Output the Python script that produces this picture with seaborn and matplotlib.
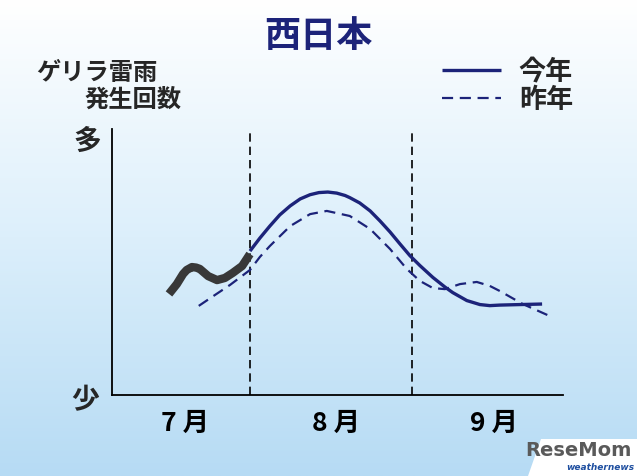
import matplotlib
matplotlib.use("Agg")
import matplotlib.pyplot as plt
from matplotlib.colors import LinearSegmentedColormap
from matplotlib.patches import Polygon
import seaborn as sns
import numpy as np

# days counted from July 1 (Aug 1 = 31, Sep 1 = 62); y = relative frequency (0 = 少, 100 = 多)
past_x = [15.5, 17.0, 18.2, 18.9, 19.9, 20.7, 21.4, 23.0, 24.7, 26.2, 27.7, 29.5, 31.0]
past_y = [38.0, 41.7, 45.5, 47.0, 48.1, 47.9, 47.4, 44.7, 43.2, 44.0, 45.9, 48.5, 53.0]

this_x = [31.0, 32.9, 34.8, 36.7, 38.7, 40.6, 42.5, 44.2, 45.9, 47.6, 49.2, 50.1, 52.0,
          54.0, 55.9, 57.8, 59.7, 61.6, 63.5, 66.0, 68.3, 69.8, 72.5, 75.0, 76.9, 78.8,
          82.7, 86.9]
this_y = [54.1, 59.0, 63.5, 67.7, 71.1, 73.7, 75.3, 76.1, 76.3, 75.9, 75.0, 74.2, 72.2,
          69.2, 65.4, 61.3, 56.8, 52.4, 48.7, 44.2, 40.6, 38.5, 35.5, 34.0, 33.6, 33.8,
          34.0, 34.2]

last_x = [21.2, 24.3, 27.2, 31.0, 32.9, 34.8, 38.7, 42.5, 45.7, 50.1, 54.0, 57.8, 61.0,
          63.5, 66.0, 68.3, 71.2, 74.4, 76.9, 78.8, 83.2, 88.8]
last_y = [33.5, 37.6, 41.4, 47.0, 51.9, 56.0, 63.5, 68.0, 69.2, 67.3, 62.4, 54.9, 47.4,
          42.9, 40.2, 39.8, 41.7, 42.5, 41.0, 39.1, 34.2, 29.3]

month_bounds = [31, 62]
month_pos = [18.6, 47.5, 77.7]
month_labels = ["7 月", "8 月", "9 月"]

sns.set_theme(style="white")
plt.rcParams["font.family"] = ["Noto Sans CJK JP", "DejaVu Sans"]

navy = "#1c2379"
W, H = 637, 477
fig = plt.figure(figsize=(W / 100, H / 100), dpi=100)

# background gradient
bg = fig.add_axes([0, 0, 1, 1])
cmap = LinearSegmentedColormap.from_list("bg", ["#ffffff", "#dceffb", "#b6dbf4"])
grad = np.linspace(0, 1, 256).reshape(-1, 1)
bg.imshow(grad, aspect="auto", cmap=cmap, extent=[0, 1, 0, 1], origin="upper")
bg.set_axis_off()

ax = fig.add_axes([112 / W, (H - 396) / H, 451 / W, 266 / H])
ax.patch.set_alpha(0)

for b in month_bounds:
    ax.axvline(b, color="black", lw=1.2, linestyle=(0, (5, 3)), zorder=1)

sns.lineplot(x=last_x, y=last_y, ax=ax, color=navy, lw=1.6,
             linestyle=(0, (5, 3)), label="昨年", zorder=2)
sns.lineplot(x=this_x, y=this_y, ax=ax, color=navy, lw=2.4, label="今年",
             zorder=3, solid_capstyle="butt", solid_joinstyle="round")
sns.lineplot(x=past_x, y=past_y, ax=ax, color="#383838", lw=6,
             solid_capstyle="butt", solid_joinstyle="round", zorder=4)

ax.set_xlim(4.6, 90.9)
ax.set_ylim(0, 100)
for s in ["top", "right"]:
    ax.spines[s].set_visible(False)
for s in ["left", "bottom"]:
    ax.spines[s].set_color("black")
    ax.spines[s].set_linewidth(1.3)
ax.set_yticks([])
ax.set_xticks(month_pos)
ax.set_xticklabels(month_labels, fontsize=19, fontweight="bold", color="black")
ax.tick_params(axis="x", length=0, pad=10)

h, l = ax.get_legend_handles_labels()
order = [l.index("今年"), l.index("昨年")]
ax.legend([h[i] for i in order], [l[i] for i in order], loc="upper right",
          bbox_to_anchor=(573 / W, 1 - 58 / H), bbox_transform=fig.transFigure,
          frameon=False, handlelength=2.2, handletextpad=0.65,
          labelspacing=0.0, borderpad=0, borderaxespad=0,
          prop={"weight": "bold", "size": 19.5})

def ftext(x, y, s, **kw):
    fig.text(x / W, 1 - y / H, s, **kw)

ftext(318, 37, "西日本", ha="center", va="center", fontsize=26,
      fontweight="bold", color=navy)
ftext(36, 73, "ゲリラ雷雨", ha="left", va="center", fontsize=17.5, fontweight="bold")
ftext(181, 100, "発生回数", ha="right", va="center", fontsize=17.5, fontweight="bold")
ftext(87, 142, "多", ha="center", va="center", fontsize=20, fontweight="bold")
ftext(85, 400, "少", ha="center", va="center", fontsize=20, fontweight="bold")

# logo area
fig.patches.append(Polygon([[541 / W, 1 - 440 / H], [1, 1 - 440 / H], [1, 0], [528 / W, 0]],
                           closed=True, transform=fig.transFigure,
                           facecolor="white", edgecolor="none", zorder=5))
ftext(578, 451, "ReseMom", ha="center", va="center", fontsize=14, fontweight="bold",
      color="#5a5a5a", family="DejaVu Sans", zorder=6)
ftext(600, 468, "weathernews", ha="center", va="center", fontsize=6.5, fontweight="bold",
      style="italic", color="#1f4fa0", family="DejaVu Sans", zorder=6)

fig.savefig("out.png", dpi=100)
